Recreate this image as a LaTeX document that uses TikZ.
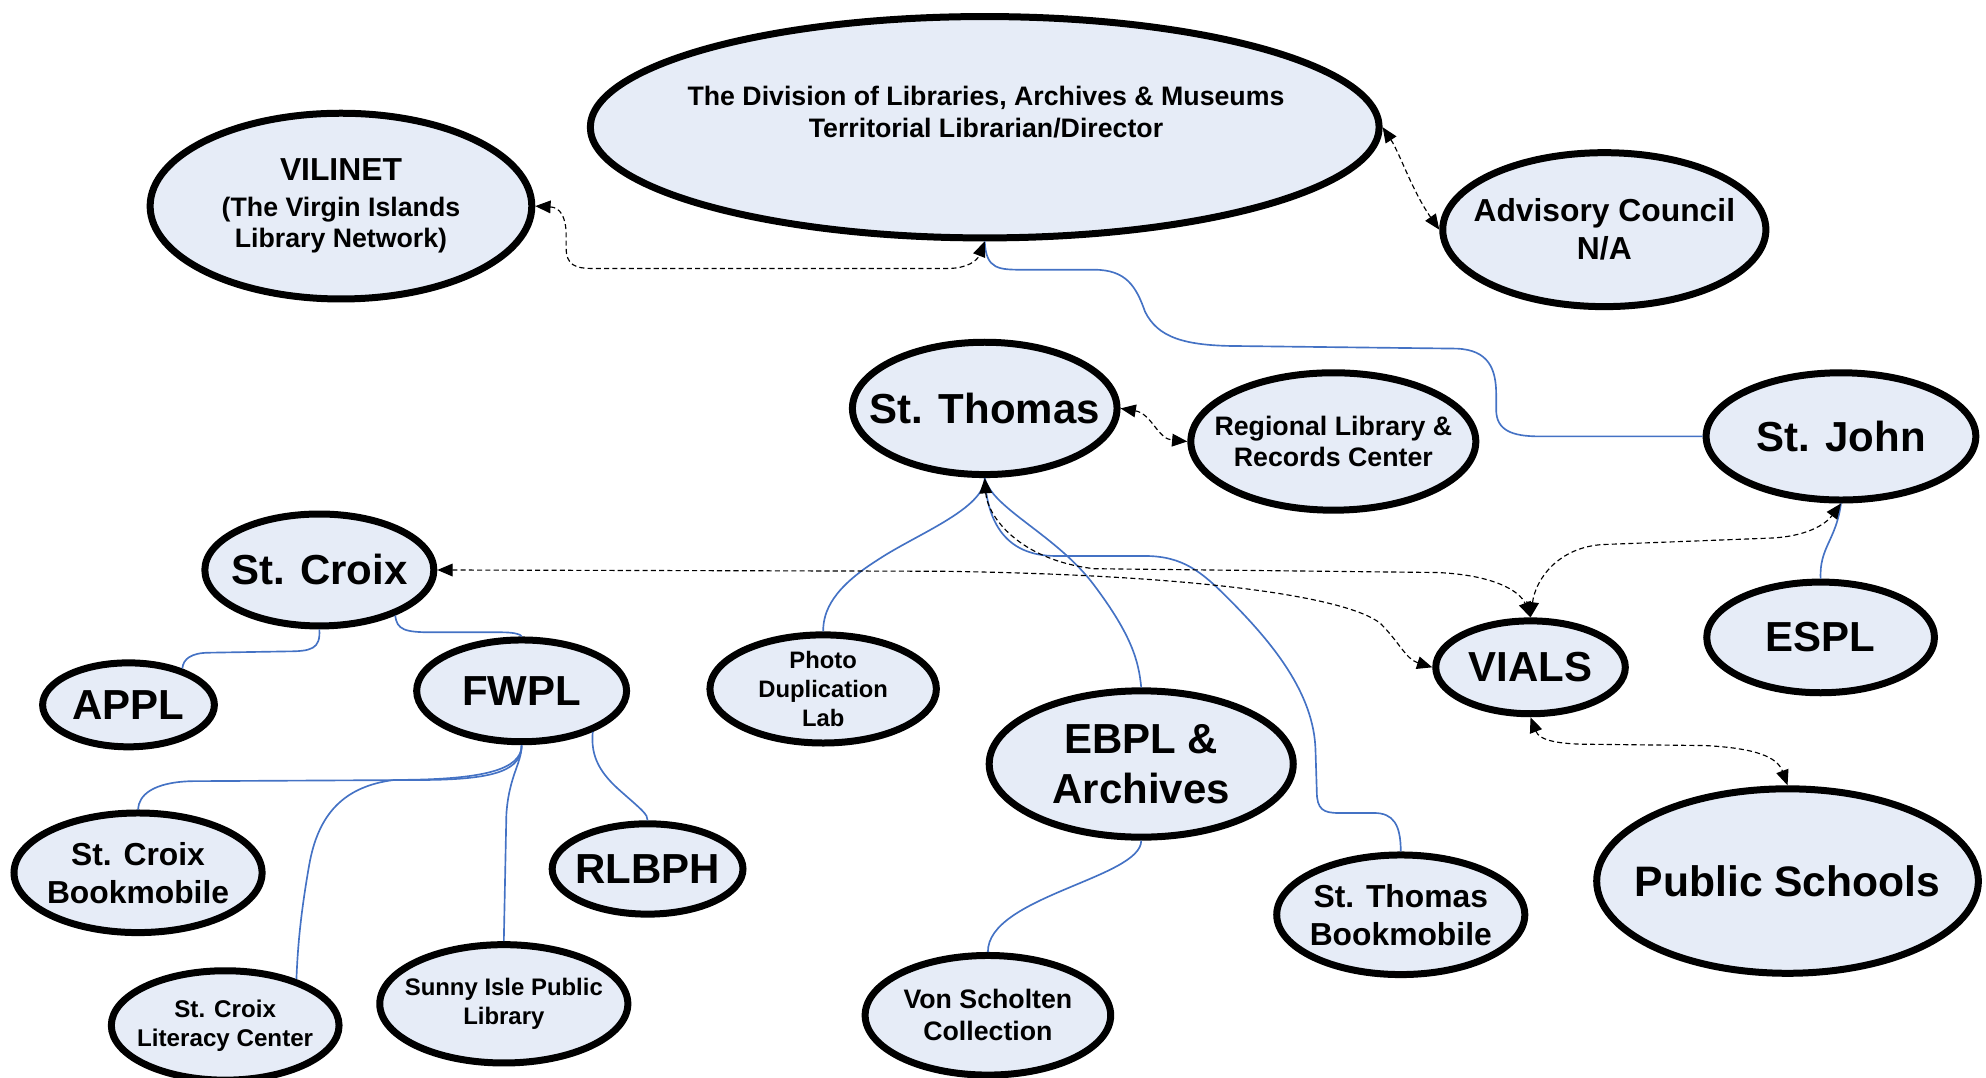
\documentclass[tikz,border=0pt]{standalone}
\usepackage{fontspec}
\setmainfont{Liberation Sans}
\usetikzlibrary{shapes.geometric,arrows.meta}
\definecolor{nodefill}{RGB}{230,236,247}
\definecolor{linkblue}{RGB}{68,114,196}
\tikzset{
  ell/.style={ellipse, draw=black, line width=5.5pt, fill=nodefill, inner sep=-100pt, outer sep=2.75pt, align=center},
  fs/.style 2 args={font=\fontsize{#1}{#2}\selectfont\bfseries},
  tie/.style={draw=linkblue, line width=1.3pt},
  dlink/.style={draw=black, line width=0.9pt, dash pattern=on 4pt off 2.5pt,
     {Triangle[length=12pt,width=10pt]}-{Triangle[length=12pt,width=10pt]}}
}
\begin{document}
\begin{tikzpicture}[x=1pt,y=-1pt]
\useasboundingbox (0,0) rectangle (1561,847);
% nodes
\node[ell, minimum width=620pt, minimum height=174pt] (div) at (774,100) {};
\node[fs={21}{25}, align=center] (divtext) at (775,88) {The Division of Libraries, Archives \& Museums\\Territorial Librarian/Director};
\node[ell, fs={21}{25}, minimum width=300pt, minimum height=146pt] (vilinet) at (268,162) {\fontsize{25}{29}\selectfont\bfseries VILINET\\[3pt](The Virgin Islands\\Library Network)};
\node[ell, fs={25}{30}, minimum width=254pt, minimum height=121pt] (advisory) at (1261,180.5) {Advisory Council\\N/A};
\node[ell, fs={33}{39}, minimum width=208pt, minimum height=104pt] (stthomas) at (774,321) {St. Thomas};
\node[ell, fs={21}{25}, minimum width=224pt, minimum height=108pt] (regional) at (1048,347) {Regional Library \&\\Records Center};
\node[ell, fs={33}{39}, minimum width=212pt, minimum height=100pt] (stjohn) at (1447,343) {St. John};
\node[ell, fs={33}{39}, minimum width=180pt, minimum height=88pt] (stcroix) at (251,448) {St. Croix};
\node[ell, fs={33}{39}, minimum width=135pt, minimum height=66pt] (appl) at (101,554) {APPL};
\node[ell, fs={33}{39}, minimum width=165pt, minimum height=80pt] (fwpl) at (410,543) {FWPL};
\node[ell, fs={18.7}{23}, minimum width=178pt, minimum height=85pt] (photo) at (647,541.5) {Photo\\Duplication\\Lab};
\node[ell, fs={33}{39}, minimum width=239pt, minimum height=115pt] (ebpl) at (897,600.5) {EBPL \&\\Archives};
\node[ell, fs={33}{39}, minimum width=149pt, minimum height=73pt] (vials) at (1203,524.5) {VIALS};
\node[ell, fs={33}{39}, minimum width=179pt, minimum height=87pt] (espl) at (1431,501) {ESPL};
\node[ell, fs={33.5}{39}, minimum width=300pt, minimum height=145pt] (public) at (1405,692.5) {Public Schools};
\node[ell, fs={25}{30}, minimum width=195pt, minimum height=94pt] (scbook) at (108.5,686) {St. Croix\\Bookmobile};
\node[ell, fs={33}{39}, minimum width=150pt, minimum height=71pt] (rlbph) at (509,683) {RLBPH};
\node[ell, fs={19}{23}, minimum width=179pt, minimum height=86pt] (literacy) at (177,806) {St. Croix\\Literacy Center};
\node[ell, fs={18.8}{23}, minimum width=195pt, minimum height=93pt] (sunny) at (396,789) {Sunny Isle Public\\Library};
\node[ell, fs={21}{25}, minimum width=193pt, minimum height=94pt] (von) at (776.5,798) {Von Scholten\\Collection};
\node[ell, fs={25}{30}, minimum width=195pt, minimum height=94pt] (stbook) at (1101,719) {St. Thomas\\Bookmobile};
% blue connectors
\draw[tie] (div.south) .. controls (775,212) and (785,212) .. (805,212) -- (860,212)
  .. controls (885,212) and (893,225) .. (900,245) .. controls (910,265) and (930,272) .. (975,272)
  -- (1145,274) .. controls (1170,275) and (1176,290) .. (1176,310) -- (1176,322)
  .. controls (1176,338) and (1188,343) .. (1210,343) -- (stjohn.west);
\draw[tie] (stthomas.south) .. controls (774,400) and (720,420) .. (690,440) .. controls (655,462) and (647,480) .. (photo.north);
\draw[tie] (stthomas.south) .. controls (780,400) and (830,420) .. (860,460) .. controls (890,500) and (895,520) .. (ebpl.north);
\draw[tie] (stthomas.south) .. controls (776,410) and (790,437) .. (830,437) -- (900,437)
  .. controls (930,437) and (945,450) .. (965,470) .. controls (1000,505) and (1033,545) .. (1034,590)
  -- (1035,622) .. controls (1035,636) and (1040,639) .. (1052,639) -- (1080,639)
  .. controls (1095,639) and (1101,648) .. (stbook.north);
\draw[tie] (stcroix.south) .. controls (252,510) and (245,512) .. (225,512) -- (165,513) .. controls (150,513) and (144,518) .. (appl.34);
\draw[tie] (stcroix.-31) .. controls (312,495) and (318,497) .. (340,497) -- (395,497) .. controls (405,497) and (410,499) .. (fwpl.north);
\draw[tie] (fwpl.south) .. controls (410,605) and (390,612) .. (340,613) -- (150,614) .. controls (120,615) and (109,625) .. (scbook.north);
\draw[tie] (fwpl.south) .. controls (410,605) and (380,613) .. (310,613) .. controls (270,618) and (250,640) .. (243,680) .. controls (236,720) and (234,745) .. (literacy.33);
\draw[tie] (fwpl.south) .. controls (410,600) and (400,610) .. (398,640) -- (sunny.north);
\draw[tie] (fwpl.-30) .. controls (464,595) and (472,608) .. (488,622) .. controls (505,637) and (509,640) .. (rlbph.north);
\draw[tie] (ebpl.south) .. controls (897,690) and (776,705) .. (von.north);
\draw[tie] (espl.north) .. controls (1430,430) and (1443,425) .. (stjohn.south);
% dashed connectors
\draw[dlink] (vilinet.east) .. controls (440,163) and (445,170) .. (445,185) -- (445,195)
  .. controls (445,208) and (452,211) .. (465,211) -- (745,211) .. controls (760,211) and (768,205) .. (div.south);
\draw[dlink] (div.east) .. controls (1100,120) and (1110,150) .. (advisory.west);
\draw[dlink] (stthomas.east) .. controls (905,325) and (910,345) .. (regional.west);
\draw[dlink] (stthomas.south) .. controls (776,405) and (800,440) .. (860,447) -- (1130,450)
  .. controls (1175,452) and (1195,465) .. (vials.north);
\draw[dlink] (stcroix.east) -- (740,449) .. controls (950,452) and (1060,470) .. (1085,490)
  .. controls (1100,505) and (1105,518) .. (vials.west);
\draw[dlink] (vials.north) .. controls (1207,455) and (1225,430) .. (1260,428) -- (1390,423)
  .. controls (1420,422) and (1435,412) .. (stjohn.south);
\draw[dlink] (vials.south) .. controls (1210,582) and (1225,585) .. (1250,585) -- (1340,586)
  .. controls (1380,588) and (1397,595) .. (public.north);
\end{tikzpicture}
\end{document}
